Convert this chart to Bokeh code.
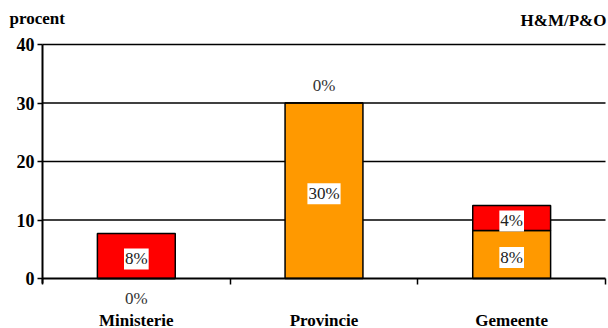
from bokeh.plotting import figure
from bokeh.models import ColumnDataSource, Range1d, FixedTicker, Label
from bokeh.core.properties import value
from bokeh.embed import file_html
from bokeh.resources import INLINE

categories = ["Ministerie", "Provincie", "Gemeente"]
orange_vals = [0.0, 30.0, 8.2]
red_vals = [7.7, 0.0, 4.3]
orange_labels = ["0%", "30%", "8%"]
red_labels = ["8%", "0%", "4%"]
y_ticks = [0, 10, 20, 30, 40]
grid_ticks = [10, 20, 30, 40]

SERIF = "'Liberation Serif', 'Times New Roman', serif"
ORANGE = "#FF9900"
RED = "#FF0000"

W, H = 608, 328
# plot-area pixel box (left, right, top, bottom) inside the canvas
PL, PR, PT, PB = 42, 605, 44, 278
ncat = len(categories)
ymax = y_ticks[-1]
xs = (PR - PL) / ncat
ys = (PB - PT) / ymax

xc = [i + 0.5 for i in range(ncat)]
bottom_o = [0.0] * ncat
top_o = orange_vals
bottom_r = orange_vals
top_r = [o + r for o, r in zip(orange_vals, red_vals)]

p = figure(width=W, height=H, output_backend="svg", toolbar_location=None,
           x_range=Range1d(-PL / xs, ncat + (W - PR) / xs),
           y_range=Range1d(-(H - PB) / ys, ymax + PT / ys),
           min_border_left=0, min_border_right=0, min_border_top=0, min_border_bottom=0)
p.outline_line_color = None
p.background_fill_color = "white"
p.border_fill_color = "white"
p.xgrid.visible = False
p.ygrid.visible = False

# horizontal grid lines over the category span
p.segment(x0=[0] * len(grid_ticks), x1=[ncat] * len(grid_ticks), y0=grid_ticks, y1=grid_ticks,
          line_color="black", line_width=1.5)

# bars
src = ColumnDataSource(dict(x=xc, bo=bottom_o, to=top_o, br=bottom_r, tr=top_r))
p.vbar(x="x", bottom="bo", top="to", width=0.415, source=src,
       fill_color=ORANGE, line_color="black", line_width=1.5)
p.vbar(x="x", bottom="br", top="tr", width=0.415, source=src,
       fill_color=RED, line_color="black", line_width=1.5)

# value labels
lx, ly, lt = [], [], []
zx, zy, zt, zoff = [], [], [], []
for i in range(ncat):
    for b, v, t, off in ((bottom_o[i], orange_vals[i], orange_labels[i], 20),
                         (bottom_r[i], red_vals[i], red_labels[i], -18)):
        if v > 0:
            lx.append(xc[i]); ly.append(b + v / 2); lt.append(t)
        else:
            zx.append(xc[i]); zy.append(b); zt.append(t); zoff.append(off)

p.text(x=lx, y=ly, text=lt, text_align="center", text_baseline="middle",
       y_offset=3, text_font=value(SERIF), text_font_size="17px", text_color="#222222",
       background_fill_color="white", padding=1)
p.text(x=zx, y=zy, text=zt, y_offset=zoff, text_align="center", text_baseline="middle",
       text_font=value(SERIF), text_font_size="17px", text_color="#333333")

# axes
ya = p.yaxis[0]
ya.fixed_location = 0
ya.bounds = (-0.8, ymax)
ya.ticker = FixedTicker(ticks=y_ticks)
ya.axis_line_color = "black"
ya.axis_line_width = 2
ya.major_tick_line_width = 1.5
ya.major_tick_in = 0
ya.major_tick_out = 5
ya.minor_tick_line_color = None
ya.major_label_text_font = SERIF
ya.major_label_text_font_style = "bold"
ya.major_label_text_font_size = "18px"
ya.major_label_text_color = "black"
ya.major_label_standoff = 3

xa = p.xaxis[0]
xa.fixed_location = 0
xa.bounds = (0, ncat)
xa.ticker = FixedTicker(ticks=xc, minor_ticks=list(range(ncat + 1)))
xa.major_label_overrides = {v: c for v, c in zip(xc, categories)}
xa.axis_line_color = "black"
xa.axis_line_width = 2
xa.major_tick_line_color = None
xa.major_tick_out = 0
xa.minor_tick_line_width = 1.5
xa.minor_tick_in = 0
xa.minor_tick_out = 6
xa.major_label_text_font = SERIF
xa.major_label_text_font_style = "bold"
xa.major_label_text_font_size = "17px"
xa.major_label_text_color = "black"
xa.major_label_standoff = 26

p.add_layout(Label(x=9, y=H - 18, x_units="screen", y_units="screen", text="procent",
                   text_font=SERIF, text_font_style="bold", text_font_size="17px",
                   text_baseline="middle", text_color="black"))
p.add_layout(Label(x=W - 2, y=H - 20, x_units="screen", y_units="screen", text="H&M/P&O",
                   text_font=SERIF, text_font_style="bold", text_font_size="17px",
                   text_baseline="middle", text_align="right", text_color="black"))

open("out.html", "w").write(file_html(p, INLINE))
